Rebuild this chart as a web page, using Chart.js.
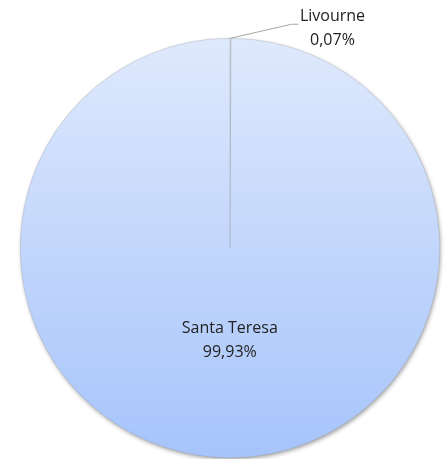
<!DOCTYPE html>
<html>
<head>
<meta charset="utf-8">
<script src="https://cdn.jsdelivr.net/npm/chart.js@4"></script>
<style>
  html, body { margin: 0; padding: 0; background: #fff; }
  #wrap { width: 446px; height: 459px; }
</style>
</head>
<body>
<div id="wrap"><canvas id="c"></canvas></div>
<script>
const labels = ['Livourne', 'Santa Teresa'];
const values = [0.07, 99.93];
const pctLabels = ['0,07%', '99,93%'];

const FONT = '"Open Sans", "Liberation Sans", sans-serif';

function pieFill(context) {
    const chart = context.chart;
    const area = chart.chartArea;
    if (!area) return '#c4d7fb';
    const g = chart.ctx.createLinearGradient(0, area.top, 0, area.bottom);
    g.addColorStop(0, '#dfe9fc');
    g.addColorStop(1, '#a6c4fb');
    return g;
}

// soft shadow under the pie: a shadowed disc painted before the slices
const shadowPlugin = {
    id: 'shadow',
    beforeDatasetsDraw(chart) {
        const ctx = chart.ctx;
        const arc = chart.getDatasetMeta(0).data[1];
        if (!arc) return;
        ctx.save();
        ctx.shadowColor = 'rgba(0,0,0,0.4)';
        ctx.shadowBlur = 4;
        ctx.shadowOffsetX = 1;
        ctx.shadowOffsetY = 2;
        ctx.fillStyle = '#c4d7fb';
        ctx.beginPath();
        ctx.arc(arc.x, arc.y, arc.outerRadius - 0.5, 0, Math.PI * 2);
        ctx.fill();
        ctx.restore();
    }
};

// data labels drawn from the arc elements
const labelPlugin = {
    id: 'pieLabels',
    afterDraw(chart) {
        const ctx = chart.ctx;
        const meta = chart.getDatasetMeta(0);
        ctx.save();
        ctx.font = '16px ' + FONT;
        ctx.fillStyle = '#222';
        ctx.textBaseline = 'middle';

        // big slice: label inside
        const big = meta.data[1];
        const midB = (big.startAngle + big.endAngle) / 2;
        const bx = big.x + Math.cos(midB) * big.outerRadius * 0.44;
        const by = big.y + Math.sin(midB) * big.outerRadius * 0.44;
        ctx.textAlign = 'center';
        ctx.fillText(labels[1], bx, by - 12);
        ctx.fillText(pctLabels[1], bx, by + 12);

        // small slice: outside with leader line
        const sm = meta.data[0];
        const midS = (sm.startAngle + sm.endAngle) / 2;
        const px = sm.x + Math.cos(midS) * sm.outerRadius;
        const py = sm.y + Math.sin(midS) * sm.outerRadius;
        ctx.strokeStyle = '#a6a6a6';
        ctx.lineWidth = 1;
        ctx.beginPath();
        ctx.moveTo(px, py);
        ctx.lineTo(px + 61, py - 14);
        ctx.lineTo(px + 68, py - 14);
        ctx.stroke();
        ctx.textAlign = 'center';
        ctx.fillText(labels[0], px + 102, py - 22);
        ctx.fillText(pctLabels[0], px + 102, py + 2);
        ctx.restore();
    }
};

new Chart(document.getElementById('c'), {
    type: 'pie',
    data: {
        labels: labels,
        datasets: [{
            data: values,
            backgroundColor: pieFill,
            borderColor: 'rgba(150,150,150,0.6)',
            borderWidth: 0.5
        }]
    },
    options: {
        responsive: true,
        maintainAspectRatio: false,
        animation: false,
        layout: { padding: { top: 38, bottom: 1, left: 20, right: 6 } },
        plugins: {
            legend: { display: false },
            tooltip: { enabled: false }
        }
    },
    plugins: [shadowPlugin, labelPlugin]
});
</script>
</body>
</html>
